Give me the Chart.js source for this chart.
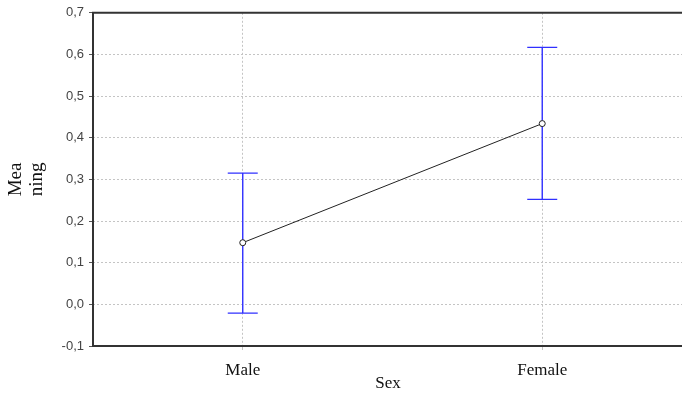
<!DOCTYPE html>
<html>
<head>
<meta charset="utf-8">
<script src="https://cdn.jsdelivr.net/npm/chart.js@4"></script>
<style>
  html, body { margin: 0; padding: 0; background: #fff; overflow: hidden; }
  #wrap { width: 688px; height: 394px; }
</style>
</head>
<body>
<div id="wrap"><canvas id="chart_1"></canvas></div>
<script>
const categories = ["Male", "Female"];
const means = [0.148, 0.434];
const lower = [-0.021, 0.252];
const upper = [0.315, 0.617];
const yTicks = [-0.1, 0, 0.1, 0.2, 0.3, 0.4, 0.5, 0.6, 0.7];

const ct_1 = document.getElementById("chart_1");

// error bars under the points, frame lines on top
const errorBars = {
  id: "errorBars",
  beforeDatasetsDraw(chart) {
    const ctx = chart.ctx;
    const xs = chart.scales.x;
    const ys = chart.scales.y;
    ctx.save();
    ctx.setLineDash([]);
    categories.forEach((c, i) => {
      const x = xs.getPixelForValue(i);
      const yl = ys.getPixelForValue(lower[i]);
      const yu = ys.getPixelForValue(upper[i]);
      ctx.strokeStyle = "#3030ff";
      ctx.lineWidth = 1.4;
      ctx.beginPath();
      ctx.moveTo(x, yl);
      ctx.lineTo(x, yu);
      ctx.moveTo(x - 15, yl);
      ctx.lineTo(x + 15, yl);
      ctx.moveTo(x - 15, yu);
      ctx.lineTo(x + 15, yu);
      ctx.stroke();
    });
    ctx.restore();
  },
  afterDraw(chart) {
    const ctx = chart.ctx;
    const area = chart.chartArea;
    ctx.save();
    ctx.setLineDash([]);
    ctx.strokeStyle = "#333";
    ctx.lineWidth = 2;
    ctx.beginPath();
    ctx.moveTo(area.left, area.top);
    ctx.lineTo(chart.width, area.top);
    ctx.moveTo(area.left, area.bottom);
    ctx.lineTo(chart.width, area.bottom);
    ctx.moveTo(area.left, area.top - 1);
    ctx.lineTo(area.left, area.bottom + 1);
    ctx.stroke();
    ctx.restore();
  },
};

const config_1 = {
  type: "line",
  data: {
    datasets: [
      {
        label: "Meaning",
        data: means.map((v, i) => ({ x: i, y: v })),
        borderColor: "#222",
        borderWidth: 1,
        pointRadius: 3,
        pointBackgroundColor: "#fff",
        pointBorderColor: "#222",
        pointBorderWidth: 1,
      },
    ],
  },
  options: {
    responsive: true,
    maintainAspectRatio: false,
    animation: false,
    layout: { padding: { top: 11, right: 0, left: 0, bottom: 0 } },
    plugins: {
      legend: { display: false },
      tooltip: { enabled: false },
    },
    scales: {
      x: {
        type: "linear",
        min: -0.5,
        max: 1.47,
        afterBuildTicks: (scale) => {
          scale.ticks = categories.map((c, i) => ({ value: i }));
        },
        afterFit: (scale) => {
          scale.height = 48;
        },
        ticks: {
          callback: (v) => categories[v],
          font: { family: "Liberation Serif", size: 17 },
          color: "#111",
          padding: 10,
          maxRotation: 0,
        },
        grid: {
          color: "#c4c4c4",
          tickLength: 4,
          tickColor: "#c4c4c4",
        },
        border: { display: false, dash: [2, 2] },
        title: {
          display: true,
          text: "Sex",
          font: { family: "Liberation Serif", size: 17 },
          color: "#111",
          padding: { top: -3, bottom: 0 },
        },
      },
      y: {
        min: -0.1,
        max: 0.7,
        afterBuildTicks: (scale) => {
          scale.ticks = yTicks.map((v) => ({ value: v }));
        },
        afterFit: (scale) => {
          scale.width = 93;
        },
        ticks: {
          callback: (v) => v.toFixed(1).replace(".", ","),
          font: { family: "Liberation Sans", size: 13 },
          color: "#444",
          padding: 5,
        },
        grid: {
          color: "#c4c4c4",
          tickLength: 4,
          tickColor: "#555",
          tickBorderDash: [],
        },
        border: { display: false, dash: [2, 2] },
        title: {
          display: true,
          text: ["Mea", "ning"],
          font: { family: "Liberation Serif", size: 19, lineHeight: 1.1 },
          color: "#111",
          padding: { top: 6, bottom: 0 },
        },
      },
    },
  },
  plugins: [errorBars],
};

new Chart(ct_1, config_1);
</script>
</body>
</html>
